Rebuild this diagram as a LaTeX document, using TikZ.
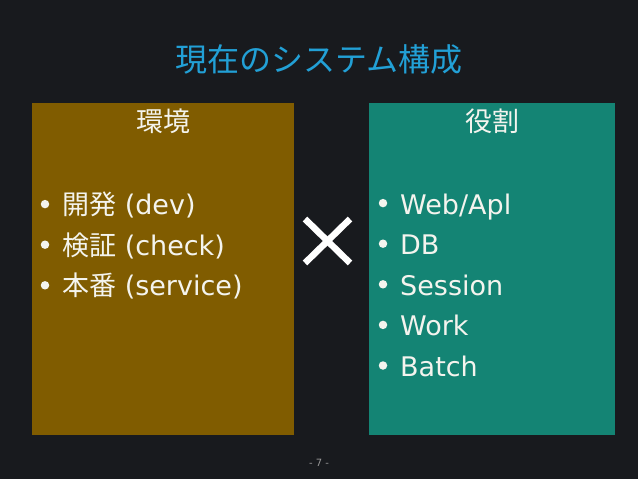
\documentclass[tikz,border=0pt]{standalone}
\usepackage{fontspec}
\setmainfont{DejaVu Sans}
\newfontfamily\jpfont{Noto Sans CJK JP}
\usetikzlibrary{positioning}
\definecolor{slidebg}{RGB}{24,26,30}
\definecolor{titleblue}{RGB}{34,160,214}
\definecolor{envbrown}{RGB}{128,92,0}
\definecolor{roleteal}{RGB}{20,132,116}
\definecolor{slidetext}{RGB}{244,244,238}
\tikzset{
  heading/.style={text=slidetext, font=\jpfont\fontsize{27}{30}\selectfont},
  item/.style={text=slidetext, anchor=base west, inner sep=0pt, font=\fontsize{27}{30}\selectfont},
  bulletdot/.style={circle, fill=slidetext, inner sep=0pt, minimum size=8.5pt},
}
\begin{document}
\begin{tikzpicture}[x=1pt, y=-1pt]
    % Background
    \fill[slidebg] (0,0) rectangle (638,479);
    \useasboundingbox (0,0) rectangle (638,479);

    % Title
    \node[text=titleblue, font=\jpfont\fontsize{32}{36}\selectfont] (title) at (319,59) {現在のシステム構成};

    % Left panel: environments
    \fill[envbrown] (32,103) rectangle (294,435);
    \node[heading] (envhead) at (163,121) {環境};
    \foreach \name/\lat [count=\i] in {開発/dev, 検証/check, 本番/service} {
        \node[bulletdot] (envdot\i) at (45,{163.5+40.6*\i}) {};
        \node[item] (env\i) at (62,{174+40.6*\i}) {{\jpfont \name} (\lat)};
    }

    % Cross
    \coordinate (crossa) at (305,219);
    \coordinate (crossb) at (350,263);
    \coordinate (crossc) at (350,219);
    \coordinate (crossd) at (305,263);
    \draw[white, line width=6.5pt] (crossa) -- (crossb);
    \draw[white, line width=6.5pt] (crossc) -- (crossd);

    % Right panel: roles
    \fill[roleteal] (369,103) rectangle (615,435);
    \node[heading] (rolehead) at (492,121) {役割};
    \foreach \role [count=\i] in {Web/Apl, DB, Session, Work, Batch} {
        \node[bulletdot] (roledot\i) at (383,{162.5+40.6*\i}) {};
        \node[item] (role\i) at (400,{173.5+40.6*\i}) {\role};
    }

    % Page number
    \node[text=gray!80, font=\fontsize{10}{11}\selectfont] (pageno) at (319,463) {- 7 -};
\end{tikzpicture}
\end{document}
